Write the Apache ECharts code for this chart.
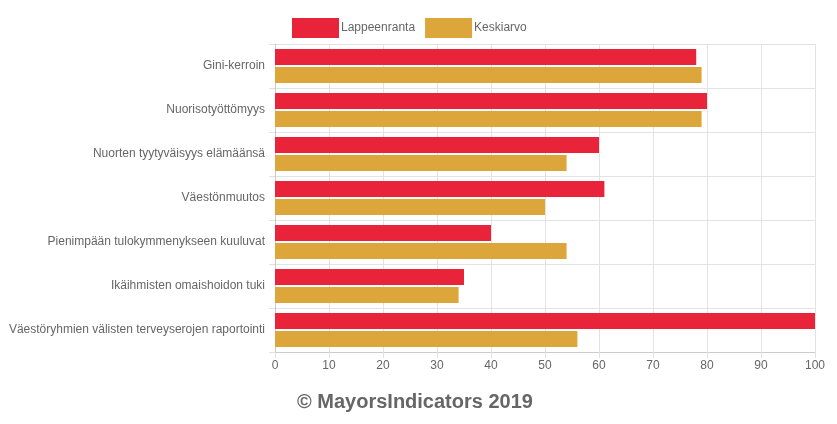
<!DOCTYPE html>
<html><head><meta charset="utf-8">
<script src="https://cdn.jsdelivr.net/npm/echarts@6/dist/echarts.min.js"></script>
<style>html,body{margin:0;padding:0;background:#fff}#c{width:837px;height:424px}</style>
</head><body><div id="c"></div>
<script>
const categories = ["Gini-kerroin","Nuorisotyöttömyys","Nuorten tyytyväisyys elämäänsä","Väestönmuutos","Pienimpään tulokymmenykseen kuuluvat","Ikäihmisten omaishoidon tuki","Väestöryhmien välisten terveyserojen raportointi"];
const lappeenranta = [78, 80, 60, 61, 40, 35, 100];
const keskiarvo = [79, 79, 54, 50, 54, 34, 56];
const seriesNames = ["Lappeenranta", "Keskiarvo"];
const copyright = "© MayorsIndicators 2019";

const chart = echarts.init(document.getElementById('c'), null, {renderer:'canvas'});
const font = 'Liberation Sans, Arial, sans-serif';
chart.setOption({
  animation: false,
  textStyle: {fontFamily: font},
  legend: {
    left: 287, top: 13, itemWidth: 47, itemHeight: 20, itemGap: 10,
    icon: 'rect',
    textStyle: {color: '#666', fontSize: 12, fontFamily: font, padding: [0,0,0,-3]},
    data: seriesNames
  },
  grid: {left: 275, right: 22, top: 44, bottom: 72, containLabel: false},
  xAxis: {
    type: 'value', min: 0, max: 100, interval: 10,
    axisLine: {show: true, lineStyle: {color: '#ccc'}},
    axisTick: {show: true, length: 6, lineStyle: {color: '#e0e0e0'}},
    axisLabel: {color: '#666', fontSize: 12, fontFamily: font, margin: 8},
    splitLine: {show: true, lineStyle: {color: '#e3e3e3'}}
  },
  yAxis: {
    type: 'category', data: categories, inverse: true,
    axisLine: {show: true, lineStyle: {color: '#ccc'}},
    axisTick: {show: true, length: 6, lineStyle: {color: '#e0e0e0'}},
    axisLabel: {color: '#666', fontSize: 12, fontFamily: font, margin: 10},
    splitLine: {show: true, lineStyle: {color: '#e3e3e3'}}
  },
  series: [
    {name: seriesNames[0], type: 'bar', data: lappeenranta, barWidth: 16, barGap: '12.5%', itemStyle: {color: '#E8233A'}},
    {name: seriesNames[1], type: 'bar', data: keskiarvo, barWidth: 16, itemStyle: {color: '#DDA63A'}}
  ],
  graphic: [{
    type: 'text', left: 297, top: 392,
    style: {text: copyright, fill: '#666', font: 'bold 20px ' + font}
  }]
});
</script></body></html>
